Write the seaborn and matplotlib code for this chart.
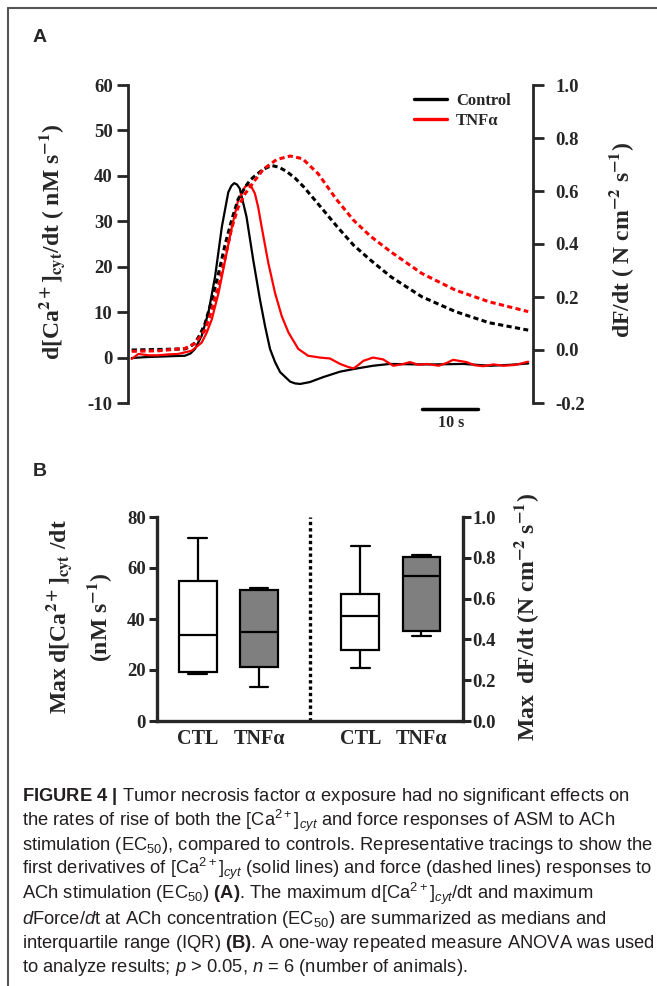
import numpy as np
import pandas as pd
import matplotlib
matplotlib.use("Agg")
import matplotlib.pyplot as plt
import seaborn as sns
from matplotlib import font_manager
from matplotlib.lines import Line2D
from matplotlib.ticker import FormatStrFormatter

# ---- panel A: representative tracings, time in s ----
ctl_ca_t = [0.0, 2.5, 4.75, 7.0, 9.5, 10.5, 11.3, 12.5, 13.7, 14.9, 16.1, 17.25, 17.8, 18.3,
            18.8, 19.3, 20.5, 21.7, 22.9, 23.8, 24.7, 25.6, 26.5, 28.3, 29.2, 30.1, 31.8,
            34.2, 37.2, 40.2, 43.1, 46.1, 50.9, 54.4, 59.2, 64.0, 67.5, 70.8]
ctl_ca = [-0.1, 0.1, 0.2, 0.3, 0.4, 0.9, 1.9, 4.8, 9.9, 17.9, 28.8, 36.4, 37.8, 38.4,
          38.1, 37.2, 31.0, 21.5, 12.8, 7.0, 1.9, -1.0, -3.2, -5.3, -5.7, -5.8, -5.4,
          -4.3, -3.1, -2.4, -1.8, -1.4, -1.5, -1.5, -1.4, -1.8, -1.6, -1.3]

tnf_ca_t = [0.0, 1.2, 3.0, 4.75, 6.5, 8.3, 10.7, 12.5, 13.4, 14.3, 15.5, 16.7, 17.9, 19.0,
            20.2, 20.7, 21.3, 22.0, 22.6, 23.2, 24.4, 25.6, 26.8, 28.0, 29.75, 31.5, 33.6,
            35.4, 37.2, 38.5, 39.6, 40.5, 41.4, 43.1, 44.9, 46.7, 48.2, 49.7, 51.2, 52.7,
            54.8, 56.2, 57.4, 59.8, 61.3, 62.8, 64.6, 66.4, 68.6, 70.8]
tnf_ca = [-0.3, 0.8, 0.5, 0.5, 0.7, 0.8, 1.5, 3.3, 5.5, 8.4, 14.2, 21.5, 28.8, 34.6,
          37.5, 38.1, 37.8, 36.1, 33.0, 28.8, 20.8, 14.2, 9.1, 5.5, 1.9, 0.4, 0.0,
          -0.2, -1.4, -2.0, -2.4, -1.6, -0.7, 0.0, -0.4, -1.8, -1.5, -1.0, -1.6, -1.4,
          -1.8, -1.2, -0.5, -1.0, -1.7, -1.9, -1.5, -1.8, -1.6, -0.9]

ctl_f_t = [0.0, 4.75, 9.5, 10.4, 11.3, 12.2, 13.1, 14.3, 15.5, 16.7, 17.9, 19.0, 20.2, 21.1,
           22.0, 23.5, 25.0, 26.3, 27.7, 29.2, 30.7, 33.7, 36.7, 39.6, 42.6, 46.3, 51.8,
           57.8, 63.8, 70.8]
ctl_f = [0.0, 0.002, 0.004, 0.012, 0.027, 0.058, 0.10, 0.188, 0.288, 0.40, 0.494, 0.569,
         0.613, 0.640, 0.657, 0.682, 0.696, 0.690, 0.673, 0.648, 0.616, 0.541, 0.465,
         0.396, 0.340, 0.276, 0.201, 0.145, 0.103, 0.075]

tnf_f_t = [0.0, 4.75, 9.5, 11.3, 13.1, 14.3, 15.5, 16.7, 17.9, 19.0, 20.2, 21.7, 23.5, 25.9,
           28.3, 30.5, 33.3, 36.5, 39.6, 42.6, 46.3, 51.8, 57.8, 63.8, 70.8]
tnf_f = [-0.005, -0.003, 0.006, 0.025, 0.075, 0.15, 0.238, 0.35, 0.463, 0.538, 0.588,
         0.632, 0.682, 0.719, 0.732, 0.722, 0.665, 0.57, 0.49, 0.43, 0.37, 0.289, 0.226,
         0.182, 0.145]

# ---- panel B: min, Q1, median, Q3, max ----
groups = ["CTL", "TNFα"]
ctl_ca_box = [18.5, 19.4, 33.9, 54.9, 71.6]
tnf_ca_box = [13.2, 21.2, 34.8, 51.4, 52.1]
ctl_f_box = [0.26, 0.349, 0.517, 0.623, 0.857]
tnf_f_box = [0.419, 0.44, 0.713, 0.804, 0.812]

caption_lines = [
    r"$\mathbf{FIGURE\ 4\ |}$ Tumor necrosis factor α exposure had no significant effects on",
    r"the rates of rise of both the [Ca$^{2+}$]$_{cyt}$ and force responses of ASM to ACh",
    r"stimulation (EC$_{50}$), compared to controls. Representative tracings to show the",
    r"first derivatives of [Ca$^{2+}$]$_{cyt}$ (solid lines) and force (dashed lines) responses to",
    r"ACh stimulation (EC$_{50}$) $\mathbf{(A)}$. The maximum d[Ca$^{2+}$]$_{cyt}$/dt and maximum",
    r"$d$Force/$d$t at ACh concentration (EC$_{50}$) are summarized as medians and",
    r"interquartile range (IQR) $\mathbf{(B)}$. A one-way repeated measure ANOVA was used",
    r"to analyze results; $p$ > 0.05, $n$ = 6 (number of animals).",
]


def has_font(name):
    try:
        font_manager.findfont(name, fallback_to_default=False)
        return True
    except Exception:
        return False


cap_font = "Liberation Sans Narrow" if has_font("Liberation Sans Narrow") else "Liberation Sans"

sns.set_style("ticks")
plt.rcParams["font.family"] = ["Liberation Serif", "DejaVu Serif"]
plt.rcParams["font.weight"] = "bold"
plt.rcParams["axes.unicode_minus"] = False
plt.rcParams["mathtext.fontset"] = "custom"
plt.rcParams["mathtext.rm"] = cap_font + ":weight=normal"
plt.rcParams["mathtext.it"] = cap_font + ":style=italic:weight=normal"
plt.rcParams["mathtext.bf"] = cap_font + ":weight=bold"

W, H = 657, 986


def fx(px):
    return px / W


def fy(py):
    return 1 - py / H


fig = plt.figure(figsize=(W / 100, H / 100), dpi=100)

# ---------------- panel A ----------------
axA = fig.add_axes([fx(128), fy(403), (533 - 128) / W, (403 - 85) / H])
sns.lineplot(x=ctl_ca_t, y=ctl_ca, ax=axA, color="black", linewidth=1.6, label="Control")
sns.lineplot(x=tnf_ca_t, y=tnf_ca, ax=axA, color="red", linewidth=1.6, label="TNFα")
axA2 = axA.twinx()
dash = (0, (1.7, 1.1))
sns.lineplot(x=ctl_f_t, y=ctl_f, ax=axA2, color="black", linewidth=2.2, linestyle=dash, legend=False)
sns.lineplot(x=tnf_f_t, y=tnf_f, ax=axA2, color="red", linewidth=2.2, linestyle=dash, legend=False)

axA.set_xlim(-0.66, 71.66)
axA.set_ylim(-10, 60)
axA2.set_ylim(-0.2, 1.0)
axA.set_yticks(range(-10, 61, 10))
axA2.set_yticks(np.arange(-0.2, 1.01, 0.2))
axA2.yaxis.set_major_formatter(FormatStrFormatter("%.1f"))
axA.set_xticks([])
for a in (axA, axA2):
    for s in ("top", "bottom"):
        a.spines[s].set_visible(False)
axA.spines["right"].set_visible(False)
axA2.spines["left"].set_visible(False)
axA.spines["left"].set_linewidth(2)
axA2.spines["right"].set_linewidth(2)
axA.tick_params(axis="y", direction="out", length=8, width=2, labelsize=13.5, pad=3)
axA2.tick_params(axis="y", direction="out", length=8, width=2, labelsize=13.5, pad=8)
axA.set_xlabel("")
axA.set_ylabel("")
axA2.set_ylabel("")

leg = axA.legend(loc="upper left", bbox_to_anchor=(0.69, 0.995), frameon=False,
                 prop={"family": "Liberation Serif", "weight": "bold", "size": 12},
                 handlelength=2.0, handletextpad=0.5, labelspacing=0.2, borderaxespad=0)
for h in leg.get_lines():
    h.set_linewidth(2.4)

# 10 s scale bar
bar_t = [51.8, 61.8]
bar_y = -11.4
axA.plot(bar_t, [bar_y, bar_y], color="black", linewidth=2.5, clip_on=False)
axA.text(np.mean(bar_t) + 0.3, -14.3, "10 s", ha="center", va="center", fontsize=11.5,
         fontweight="bold")

lab_kw = dict(fontsize=17, fontweight="bold", family="Liberation Serif", math_fontfamily="stix",
              rotation=90, ha="center", va="center")
fig.text(fx(52), fy(242), r"d[Ca$^{\mathbf{2+}}$]$_{\mathbf{cyt}}$/dt ( nM s$^{\mathbf{-1}}$)", **lab_kw)
fig.text(fx(622), fy(240), r"dF/dt ( N cm$^{\mathbf{-2}}$ s$^{\mathbf{-1}}$)", **lab_kw)

# ---------------- panel B ----------------
box_colors = {"CTL": "white", "TNFα": "#7f7f7f"}
pos_ca = {"CTL": 0.0, "TNFα": 1.0}
pos_f = {"CTL": 2.66, "TNFα": 3.66}

df_ca = pd.DataFrame({"group": [groups[0]] * 5 + [groups[1]] * 5,
                      "value": ctl_ca_box + tnf_ca_box})
df_ca["pos"] = df_ca["group"].map(pos_ca)
df_f = pd.DataFrame({"group": [groups[0]] * 5 + [groups[1]] * 5,
                     "value": ctl_f_box + tnf_f_box})
df_f["pos"] = df_f["group"].map(pos_f)

axB = fig.add_axes([fx(157), fy(721), (463 - 157) / W, (721 - 517) / H])
box_kw = dict(x="pos", y="value", hue="group", palette=box_colors, native_scale=True,
              dodge=False, whis=np.inf, width=0.62, linecolor="black", linewidth=1.6,
              saturation=1, legend=False)
sns.boxplot(data=df_ca, ax=axB, **box_kw)
axB2 = axB.twinx()
sns.boxplot(data=df_f, ax=axB2, **box_kw)

axB.set_xlim(-0.67, 4.34)
axB.set_ylim(0, 80)
axB2.set_ylim(0, 1.0)
axB.set_yticks(range(0, 81, 20))
axB2.set_yticks(np.arange(0, 1.01, 0.2))
axB2.yaxis.set_major_formatter(FormatStrFormatter("%.1f"))
axB.set_xticks([pos_ca[g] for g in groups] + [pos_f[g] for g in groups])
axB.set_xticklabels(groups + groups)
axB.axvline(1.83, color="black", linewidth=2.4, linestyle=(0, (1, 0.9)))

axB.spines["top"].set_visible(False)
axB.spines["right"].set_visible(False)
for s in ("top", "bottom", "left"):
    axB2.spines[s].set_visible(False)
for s in ("left", "bottom"):
    axB.spines[s].set_linewidth(2.4)
axB2.spines["right"].set_linewidth(2.4)
axB.tick_params(axis="y", direction="out", length=6, width=2.2, labelsize=13.5, pad=2)
axB2.tick_params(axis="y", direction="out", length=6, width=2.2, labelsize=13.5, pad=1)
axB.tick_params(axis="x", length=0, labelsize=14.5, pad=6)
for a in (axB, axB2):
    a.set_xlabel("")
    a.set_ylabel("")

fig.text(fx(59), fy(617), r"Max d[Ca$^{\mathbf{2+}}$]$_{\mathbf{cyt}}$ /dt", **lab_kw)
fig.text(fx(100), fy(617), r"(nM s$^{\mathbf{-1}}$)", **lab_kw)
fig.text(fx(527), fy(617), r"Max  dF/dt (N cm$^{\mathbf{-2}}$ s$^{\mathbf{-1}}$)", **lab_kw)

# panel letters
fig.text(fx(40), fy(37), "A", fontsize=14, fontweight="bold", family="Liberation Sans",
         ha="center", va="center")
fig.text(fx(40), fy(472), "B", fontsize=14, fontweight="bold", family="Liberation Sans",
         ha="center", va="center")

# ---------------- caption ----------------
cap_size = 12
cap_texts = []
for i, line in enumerate(caption_lines):
    t = fig.text(fx(22), fy(801 + i * 24.5), line, fontsize=cap_size, family=[cap_font, "DejaVu Sans"],
                 fontweight="normal", color="#231f20", ha="left", va="baseline",
                 math_fontfamily="custom")
    cap_texts.append(t)
renderer = fig.canvas.get_renderer()
w3 = cap_texts[2].get_window_extent(renderer).width
for t in cap_texts:
    t.set_fontsize(cap_size * (650 - 22) / w3)

# figure frame (top and left edge)
fig.add_artist(Line2D([fx(8), 1], [fy(8), fy(8)], transform=fig.transFigure,
                      color="#555555", linewidth=1.5))
fig.add_artist(Line2D([fx(8), fx(8)], [fy(8), 0], transform=fig.transFigure,
                      color="#555555", linewidth=1.5))

fig.savefig("out.png", dpi=100)
